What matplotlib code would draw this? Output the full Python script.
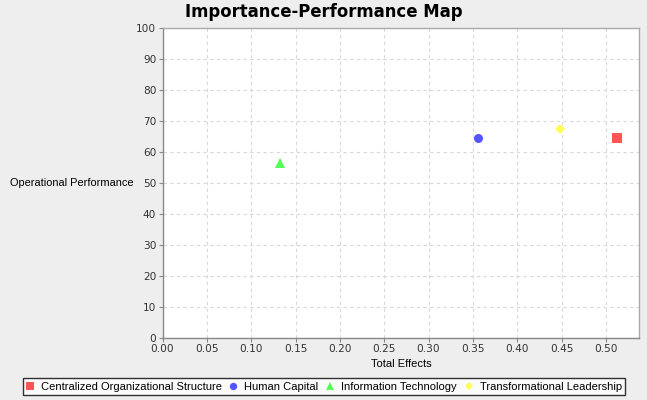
import matplotlib
matplotlib.use("Agg")
import matplotlib.pyplot as plt
from matplotlib.lines import Line2D

categories = ["Centralized Organizational Structure", "Human Capital",
              "Information Technology", "Transformational Leadership"]
total_effects = [0.512, 0.356, 0.132, 0.448]
performance = [64.4, 64.4, 56.4, 67.3]
colors = ["#FF5555", "#5555FF", "#55FF55", "#FFFF55"]
markers = ["s", "o", "^", "D"]
sizes = [6.5, 6.5, 7, 5.5]

x_ticks = [round(0.05 * i, 2) for i in range(11)]
y_ticks = list(range(0, 101, 10))

LAB = "Liberation Sans"
TICK = "DejaVu Sans"

W, H = 647, 400
fig = plt.figure(figsize=(W / 100, H / 100), dpi=100)
fig.patch.set_facecolor("#EEEEEE")
ax = fig.add_axes([162.5 / W, 1 - 338 / H, (639.3 - 162.5) / W, (338 - 27.5) / H])
ax.set_facecolor("white")

for cat, xv, yv, c, m, s in zip(categories, total_effects, performance, colors, markers, sizes):
    ax.plot([xv], [yv], linestyle="none", marker=m, color=c, markersize=s,
            markeredgewidth=0, label=cat, zorder=3)

ax.set_xlim(0, 0.5377)
ax.set_ylim(0, 100)
ax.set_xticks(x_ticks)
ax.set_xticklabels([f"{v:.2f}" for v in x_ticks])
ax.set_yticks(y_ticks)
ax.set_yticklabels([str(v) for v in y_ticks])
ax.grid(True, color="#D8D8D8", linestyle=(0, (3, 3)), linewidth=0.8)
ax.set_axisbelow(True)
ax.tick_params(axis="both", labelsize=7.6, colors="#888888", length=3, width=0.8,
               direction="out", pad=1.5)
for lbl in ax.get_xticklabels() + ax.get_yticklabels():
    lbl.set_color("#333333")
    lbl.set_fontfamily(TICK)
for sp in ["left", "bottom"]:
    ax.spines[sp].set_color("#888888")
    ax.spines[sp].set_linewidth(1)
for sp in ["top", "right"]:
    ax.spines[sp].set_color("#AAAAAA")
    ax.spines[sp].set_linewidth(1)

ax.set_xlabel("Total Effects", fontsize=8, family=LAB, labelpad=3.5)
fig.text(10 / W, 1 - 183 / H, "Operational Performance", fontsize=7.9, family=LAB,
         ha="left", va="center")
fig.text(0.5, 1 - 12 / H, "Importance-Performance Map", fontsize=11.9,
         fontweight="bold", family="DejaVu Sans", ha="center", va="center")

handles = [Line2D([0], [0], linestyle="none", marker=m, color=c,
                  markersize=s - 1.2, markeredgewidth=0)
           for c, m, s in zip(colors, markers, sizes)]
leg = fig.legend(handles, categories, loc="center", bbox_to_anchor=(324 / W, 1 - 386.5 / H),
                 ncol=4, prop={"family": LAB, "size": 8}, frameon=True, fancybox=False,
                 handlelength=0.6, handletextpad=0.7, columnspacing=0.75,
                 borderpad=0.3, borderaxespad=0)
leg.get_frame().set_edgecolor("black")
leg.get_frame().set_linewidth(1)
leg.get_frame().set_facecolor("white")

fig.savefig("out.png", dpi=100, facecolor=fig.get_facecolor())
